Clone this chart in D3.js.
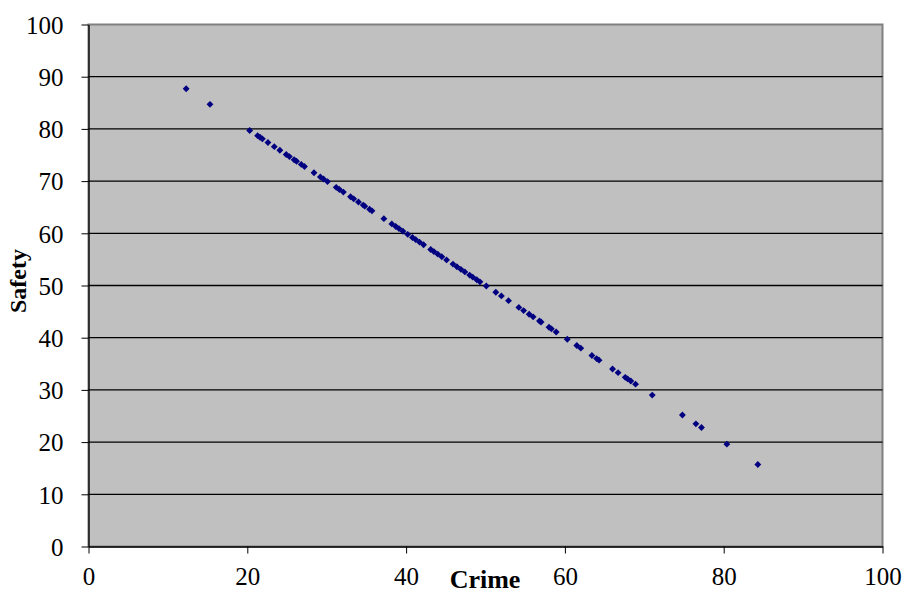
<!DOCTYPE html>
<html><head><meta charset="utf-8">
<script src="https://cdn.jsdelivr.net/npm/d3@7/dist/d3.min.js"></script>
<style>body{margin:0;background:#fff}</style>
</head><body>
<script>
const crime = [12.3,15.3,20.3,21.3,21.6,21.9,22.6,23.4,24.1,24.9,25.3,25.9,26.2,26.8,27.2,28.4,29.2,29.6,30.1,31.2,31.6,32.1,33.0,33.4,34.0,34.6,34.8,35.4,35.7,37.2,38.2,38.7,39.1,39.6,40.2,40.8,41.2,41.7,42.2,43.1,43.5,44.0,44.5,45.1,45.9,46.4,46.9,47.4,48.0,48.4,48.9,49.3,50.1,51.3,52.0,52.9,54.2,54.8,55.5,56.0,56.8,57.0,58.0,58.3,58.9,60.3,61.5,62.0,63.4,64.0,64.3,66.0,66.7,67.6,67.9,68.3,68.9,71.0,74.8,76.5,77.2,80.4,84.3];
const safety = [87.7,84.7,79.7,78.7,78.4,78.1,77.4,76.6,75.9,75.1,74.7,74.1,73.8,73.2,72.8,71.6,70.8,70.4,69.9,68.8,68.4,67.9,67.0,66.6,66.0,65.4,65.2,64.6,64.3,62.8,61.8,61.3,60.9,60.4,59.8,59.2,58.8,58.3,57.8,56.9,56.5,56.0,55.5,54.9,54.1,53.6,53.1,52.6,52.0,51.6,51.1,50.7,49.9,48.7,48.0,47.1,45.8,45.2,44.5,44.0,43.2,43.0,42.0,41.7,41.1,39.7,38.5,38.0,36.6,36.0,35.7,34.0,33.3,32.4,32.1,31.7,31.1,29.0,25.2,23.5,22.8,19.6,15.7];
const xTicks = [0,20,40,60,80,100];
const yTicks = [0,10,20,30,40,50,60,70,80,90,100];

const W = 905, H = 593;
const m = {l:88.5, r:882.5, t:24.5, b:546.5};
const svg = d3.select("body").append("svg").attr("width",W).attr("height",H);
const x = d3.scaleLinear().domain([0,100]).range([m.l,m.r]);
const y = d3.scaleLinear().domain([0,100]).range([m.b,m.t]);

svg.append("rect").attr("x",m.l).attr("y",m.t).attr("width",m.r-m.l).attr("height",m.b-m.t)
  .attr("fill","#c0c0c0").attr("stroke","#808080").attr("stroke-width",2);

svg.append("g").selectAll("line").data(yTicks.filter(d=>d>0&&d<100)).join("line")
  .attr("x1",m.l).attr("x2",m.r).attr("y1",d=>y(d)).attr("y2",d=>y(d))
  .attr("stroke","#000").attr("stroke-width",1.3);

const font = "'Liberation Serif','Times New Roman',serif";
const xa = svg.append("g").attr("transform",`translate(0,${m.b})`)
  .call(d3.axisBottom(x).tickValues(xTicks).tickSize(7).tickPadding(14).tickSizeOuter(0));
const ya = svg.append("g").attr("transform",`translate(${m.l},0)`)
  .call(d3.axisLeft(y).tickValues(yTicks).tickSize(7).tickPadding(18).tickSizeOuter(0));
[xa,ya].forEach(g=>{
  g.selectAll("text").attr("font-family",font).attr("font-size",25).attr("fill","#000");
  g.selectAll("line").attr("stroke","#000");
  g.select(".domain").attr("stroke","#000").attr("stroke-width",1.3);
});
ya.selectAll("text").attr("dy","0.35em");

svg.append("g").selectAll("path").data(crime.map((c,i)=>[c,safety[i]])).join("path")
  .attr("d", d3.symbol().type(d3.symbolDiamond2).size(30))
  .attr("transform",d=>`translate(${x(d[0])},${y(d[1])})`)
  .attr("fill","#000080");

svg.append("text").attr("x",485).attr("y",588).attr("text-anchor","middle")
  .attr("font-family",font).attr("font-weight","bold").attr("font-size",26).text("Crime");
svg.append("text").attr("transform","translate(26,281) rotate(-90)").attr("text-anchor","middle")
  .attr("font-family",font).attr("font-weight","bold").attr("font-size",24).text("Safety");
</script>
</body></html>
